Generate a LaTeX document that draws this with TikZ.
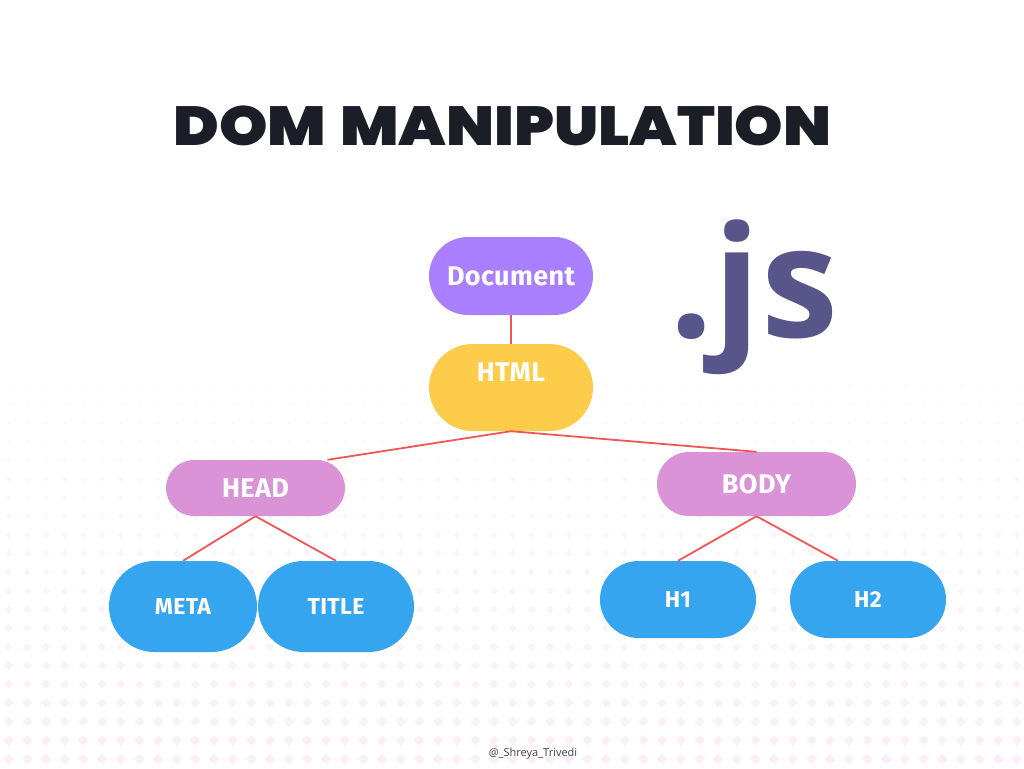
\documentclass[tikz,border=0pt]{standalone}
\usepackage{fontspec}
\usetikzlibrary{shapes.misc}
\setmainfont{Open Sans}
\newfontfamily\titlefont[UprightFont=* Black, FakeStretch=1.12, WordSpace=1.3]{Poppins}
\newfontfamily\boxfont[LetterSpace=1.5]{Fira Sans}
\definecolor{purplebox}{HTML}{A97FFF}
\definecolor{yellowbox}{HTML}{FDCC4B}
\definecolor{pinkbox}{HTML}{D993D6}
\definecolor{bluebox}{HTML}{36A5F0}
\definecolor{linkred}{HTML}{F25555}
\definecolor{jsblue}{HTML}{58558A}
\definecolor{titleink}{HTML}{1B1D27}
\definecolor{dotpink}{HTML}{FCEDFA}
\tikzset{>=stealth,
  boxnode/.style={rounded rectangle, text=white, inner sep=0pt, font=\boxfont\bfseries\fontsize{27}{27}\selectfont},
  leafnode/.style={boxnode, fill=bluebox, font=\boxfont\bfseries\fontsize{23}{23}\selectfont},
  link/.style={linkred, line width=1.8pt}}

\begin{document}
\begin{tikzpicture}[x=1pt, y=-1pt]
    \useasboundingbox (0,0) rectangle (1024,768);
    \fill[white] (0,0) rectangle (1024,768);
    % dotted backdrop
    \foreach \row in {0,...,20} {
      \pgfmathsetmacro{\dotY}{385.6+18.67*\row}
      \pgfmathsetmacro{\dotR}{1.5+0.19*\row}
      \pgfmathsetmacro{\dotMix}{30+3.5*\row}
      \foreach \col in {0,...,54} {
        \pgfmathsetmacro{\dotX}{8.7+18.67*\col}
        \fill[dotpink!\dotMix!white] (\dotX-\dotR,\dotY) -- (\dotX,\dotY-\dotR) -- (\dotX+\dotR,\dotY) -- (\dotX,\dotY+\dotR) -- cycle;
      }
    }
    \node (title) at (502.5,126) [text=titleink, font=\titlefont\fontsize{55}{55}\selectfont] {DOM MANIPULATION};
    \node (js) at (754,297) [text=jsblue, font=\fontsize{155}{155}\selectfont\bfseries] {.js};
    \node (credit) at (533,753.5) [text=black!75, font=\fontsize{11}{11}\selectfont] {@\_Shreya\_Trivedi};

    \node (document) at (511,276) [boxnode, fill=purplebox, minimum width=164pt, minimum height=78pt] {Document};
    \node (html) at (511,387.5) [boxnode, fill=yellowbox, minimum width=164pt, minimum height=87pt, text height=20pt, text depth=33pt] {HTML};
    \node (head) at (255.5,488) [boxnode, fill=pinkbox, minimum width=179pt, minimum height=56pt] {HEAD};
    \node (body) at (756.5,484) [boxnode, fill=pinkbox, minimum width=199pt, minimum height=64pt] {BODY};
    \node (meta) at (183,606.5) [leafnode, minimum width=148pt, minimum height=91pt] {META};
    \node (titletag) at (336,606.5) [leafnode, minimum width=156pt, minimum height=91pt] {TITLE};
    \node (hone) at (678,599.5) [leafnode, minimum width=156pt, minimum height=77pt] {H1};
    \node (htwo) at (868,599.5) [leafnode, minimum width=156pt, minimum height=77pt] {H2};

    \draw[link] (document.south) -- (html.north);
    \draw[link] (html.south) -- ([xshift=72pt]head.north);
    \draw[link] (html.south) -- (body.north);
    \draw[link] (head.south) -- (meta.north);
    \draw[link] (head.south) -- (titletag.north);
    \draw[link] (body.south) -- (hone.north);
    \draw[link] (body.south) -- ([xshift=-30pt]htwo.north);
\end{tikzpicture}
\end{document}
